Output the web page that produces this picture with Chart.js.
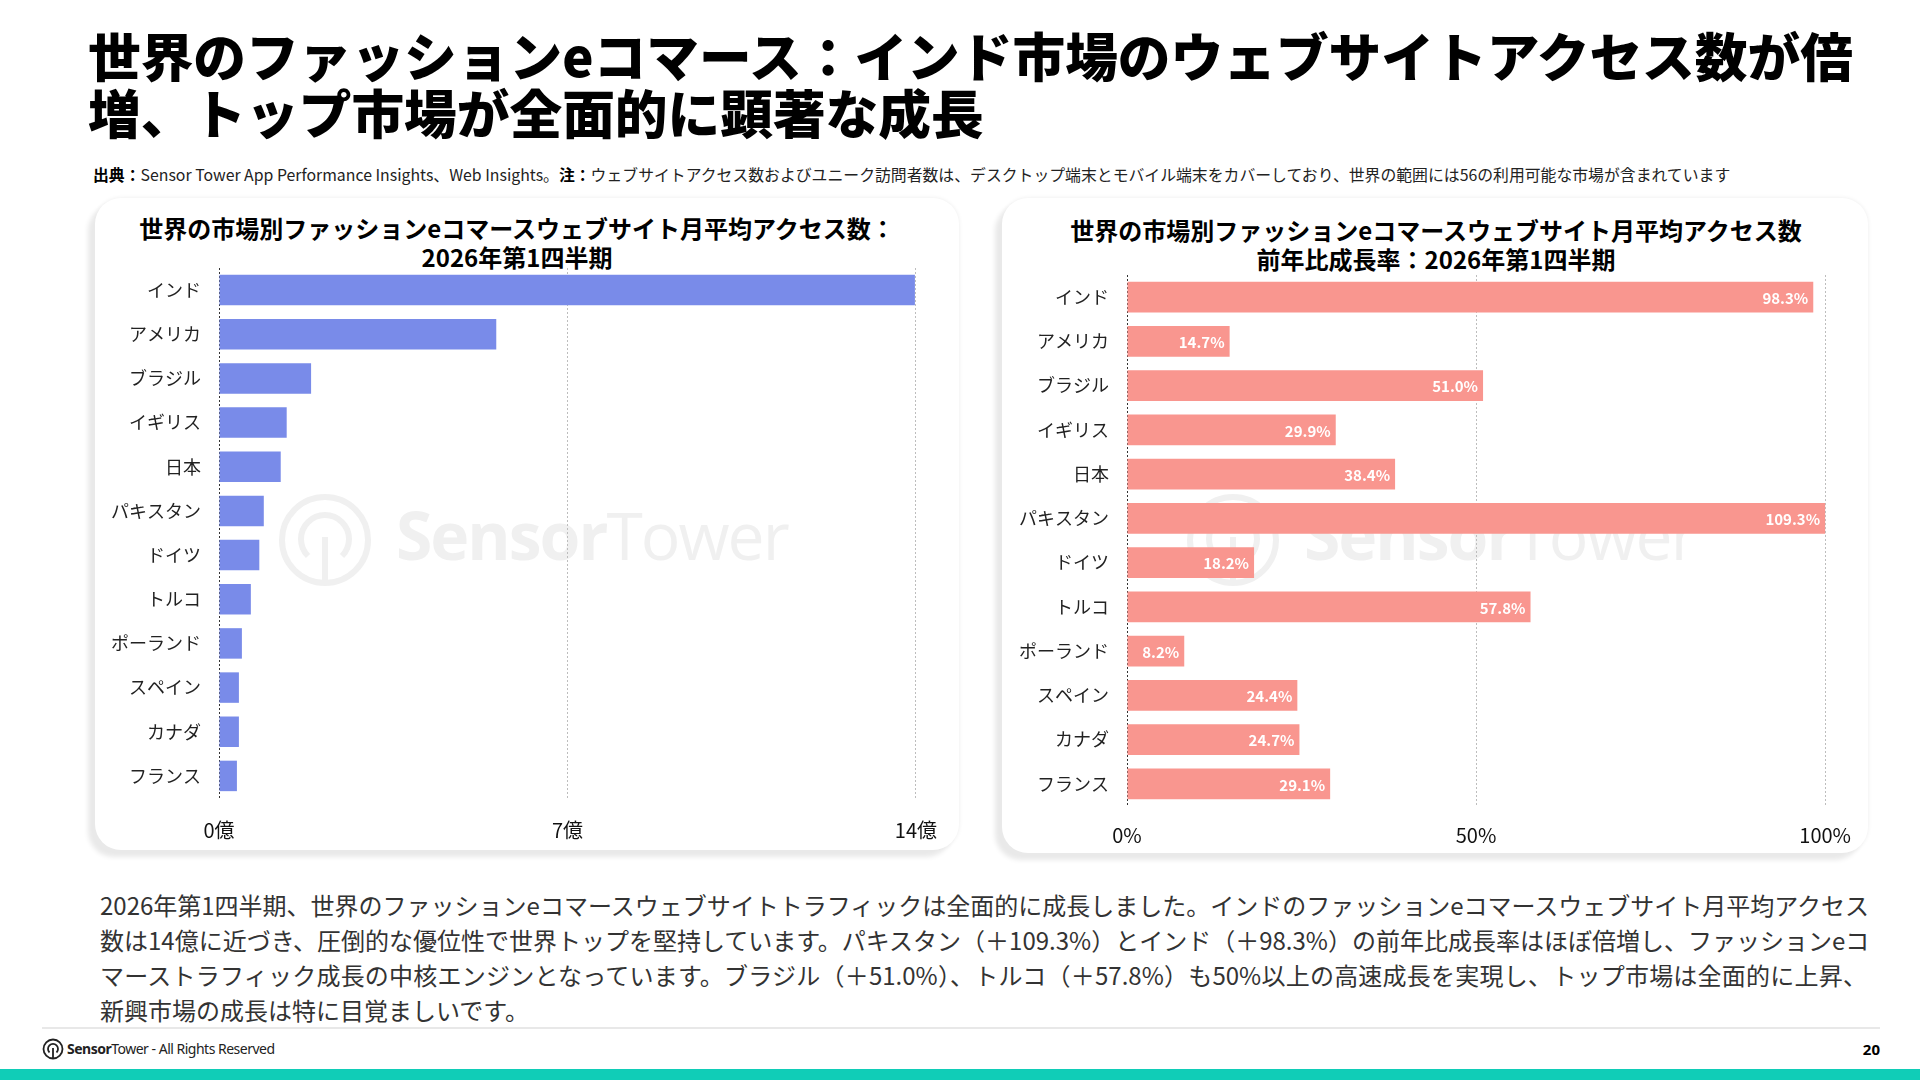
<!DOCTYPE html>
<html><head><meta charset="utf-8">
<script src="https://cdn.jsdelivr.net/npm/chart.js@4.4.1/dist/chart.umd.min.js"></script>
<style>
html,body{margin:0;padding:0;}
body{width:1920px;height:1080px;background:#fff;position:relative;overflow:hidden;font-family:"Noto Sans CJK JP","Noto Sans",sans-serif;color:#111;}
.title{position:absolute;left:88px;top:26px;font-size:52.7px;font-weight:900;line-height:57px;color:#000;white-space:nowrap;}
.sub{position:absolute;left:93px;top:164px;font-size:15.85px;line-height:22px;color:#222;white-space:nowrap;}
.sub b{font-weight:700;color:#000;}
.card{position:absolute;background:#fff;border-radius:26px;box-shadow:-7px 7px 5px #e9e9e9,0 0 4px #ececec;}
.ctitle{position:absolute;font-size:24px;font-weight:700;line-height:29px;color:#000;text-align:center;white-space:nowrap;}
.wm{position:absolute;}
.wm svg{position:absolute;left:0;top:0;}
.wm .t{position:absolute;left:118px;top:-4px;font-family:"Open Sans","Noto Sans",sans-serif;font-size:66px;color:#f0f0f0;white-space:nowrap;letter-spacing:-2px;}
canvas{position:absolute;}
.para{position:absolute;left:100px;top:887px;width:1767px;font-size:24px;line-height:35px;color:#333;}
.para div{text-align:justify;text-align-last:justify;white-space:nowrap;}
.para div.last{text-align-last:left;}
.sep{position:absolute;left:42px;top:1027px;width:1838px;height:2px;background:#e8e8e8;}
.foot{position:absolute;left:42px;top:1038px;height:22px;font-family:"Noto Sans",sans-serif;font-size:14px;line-height:22px;color:#222;white-space:nowrap;letter-spacing:-0.5px;}
.foot svg{position:absolute;left:0;top:0;}
.foot span{position:absolute;left:25px;top:0;}
.pg{position:absolute;right:40px;top:1038px;font-family:"Noto Sans",sans-serif;font-size:15px;font-weight:700;line-height:22px;color:#000;}
.bar{position:absolute;left:0;top:1069px;width:1920px;height:11px;background:#10cdb7;}
</style>
</head><body>

<div class="title">世界のファッションeコマース：インド市場のウェブサイトアクセス数が倍<br>増、トップ市場が全面的に顕著な成長</div>
<div class="sub"><b>出典：</b>Sensor Tower App Performance Insights、Web Insights。<b>注：</b>ウェブサイトアクセス数およびユニーク訪問者数は、デスクトップ端末とモバイル端末をカバーしており、世界の範囲には56の利用可能な市場が含まれています</div>

<div class="card" style="left:95px;top:198px;width:864px;height:652px;"></div>
<div class="card" style="left:1002px;top:198px;width:866px;height:655px;"></div>

<div class="wm" style="left:278px;top:493px;">
<svg width="100" height="100" viewBox="0 0 100 100"><g fill="none" stroke="#f0f0f0" stroke-width="6"><circle cx="47" cy="47" r="43"/><path d="M30 63 A24 24 0 1 1 64 63"/><line x1="47" y1="44" x2="47" y2="90"/></g></svg>
<div class="t"><b>Sensor</b>Tower</div></div>
<div class="wm" style="left:1186px;top:493px;">
<svg width="100" height="100" viewBox="0 0 100 100"><g fill="none" stroke="#f0f0f0" stroke-width="6"><circle cx="47" cy="47" r="43"/><path d="M30 63 A24 24 0 1 1 64 63"/><line x1="47" y1="44" x2="47" y2="90"/></g></svg>
<div class="t"><b>Sensor</b>Tower</div></div>

<div class="ctitle" style="left:97px;width:840px;top:213px;">世界の市場別ファッションeコマースウェブサイト月平均アクセス数：<br>2026年第1四半期</div>
<div class="ctitle" style="left:1003px;width:866px;top:215px;">世界の市場別ファッションeコマースウェブサイト月平均アクセス数<br>前年比成長率：2026年第1四半期</div>

<canvas id="c1" width="860" height="645" style="left:97px;top:200px;"></canvas>
<canvas id="c2" width="865" height="650" style="left:1003px;top:200px;"></canvas>

<div class="para">
<div>2026年第1四半期、世界のファッションeコマースウェブサイトトラフィックは全面的に成長しました。インドのファッションeコマースウェブサイト月平均アクセス</div>
<div>数は14億に近づき、圧倒的な優位性で世界トップを堅持しています。パキスタン（＋109.3%）とインド（＋98.3%）の前年比成長率はほぼ倍増し、ファッションeコ</div>
<div>マーストラフィック成長の中核エンジンとなっています。ブラジル（＋51.0%）、トルコ（＋57.8%）も50%以上の高速成長を実現し、トップ市場は全面的に上昇、</div>
<div class="last">新興市場の成長は特に目覚ましいです。</div>
</div>

<div class="sep"></div>
<div class="foot"><svg width="22" height="22" viewBox="0 0 22 22"><g fill="none" stroke="#222" stroke-width="1.8"><circle cx="11" cy="11" r="9.5"/><path d="M7.5 14.5 A5 5 0 1 1 14.5 14.5"/><line x1="11" y1="10" x2="11" y2="20.5"/></g></svg><span><b>Sensor</b>Tower - All Rights Reserved</span></div>
<div class="pg">20</div>
<div class="bar"></div>

<script>
const categories = ['インド','アメリカ','ブラジル','イギリス','日本','パキスタン','ドイツ','トルコ','ポーランド','スペイン','カナダ','フランス'];
const monthlyVisits = [13.98, 5.57, 1.85, 1.36, 1.24, 0.90, 0.81, 0.64, 0.46, 0.40, 0.40, 0.36]; // 億
const yoyGrowth = [98.3, 14.7, 51.0, 29.9, 38.4, 109.3, 18.2, 57.8, 8.2, 24.4, 24.7, 29.1]; // %
const visitTicks = [0, 7, 14];
const growthTicks = [0, 50, 100];
const visitUnit = '億';
const growthUnit = '%';

const FONT = '"Noto Sans CJK JP","Noto Sans",sans-serif';
Chart.defaults.font.family = FONT;
Chart.defaults.color = '#222';

const valueLabels = {
  id: 'valueLabels',
  afterDatasetsDraw(chart, args, opts) {
    if (!opts.show) return;
    const ctx = chart.ctx;
    const meta = chart.getDatasetMeta(0);
    const ds = chart.data.datasets[0];
    ctx.save();
    ctx.font = '700 15px ' + FONT;
    ctx.fillStyle = '#fff';
    ctx.textAlign = 'right';
    ctx.textBaseline = 'middle';
    meta.data.forEach((bar, i) => {
      const x = Math.min(bar.x, chart.chartArea.right);
      ctx.fillText(ds.data[i].toFixed(1) + growthUnit, x - 5, bar.y + 1);
    });
    ctx.restore();
  }
};

function makeChart(id, values, color, ticksArr, unit, yWidth, pad, xHeight, tickPad, labels) {
  const maxV = ticksArr[ticksArr.length - 1];
  return new Chart(document.getElementById(id), {
    type: 'bar',
    data: { labels: categories, datasets: [{ data: values, backgroundColor: color, borderWidth: 0, categoryPercentage: 1, barPercentage: 0.69 }] },
    plugins: [valueLabels],
    options: {
      indexAxis: 'y',
      responsive: false,
      animation: false,
      devicePixelRatio: 1,
      layout: { padding: pad },
      plugins: { legend: { display: false }, tooltip: { enabled: false }, title: { display: false }, valueLabels: { show: labels } },
      scales: {
        x: {
          min: 0, max: maxV,
          afterBuildTicks: s => { s.ticks = ticksArr.map(v => ({ value: v })); },
          afterFit: s => { s.height = xHeight; },
          border: { display: false, dash: [2, 2] },
          grid: { drawTicks: false, color: c => (c.tick && c.tick.value === 0) ? '#333' : '#bdbdbd', lineWidth: 1 },
          ticks: { padding: tickPad, font: { size: 20 }, color: '#111', callback: v => v + unit, maxRotation: 0 }
        },
        y: {
          afterFit: s => { s.width = yWidth; },
          border: { display: false },
          grid: { display: false },
          ticks: { padding: 10, font: { size: 18 }, color: '#222', autoSkip: false }
        }
      }
    }
  });
}

const c1 = makeChart('c1', monthlyVisits, '#798be9', visitTicks, visitUnit, 122, { top: 68, right: 38, bottom: 0, left: 0 }, 47, 20, false);
const c2 = makeChart('c2', yoyGrowth, '#f9968f', growthTicks, growthUnit, 124, { top: 75, right: 40, bottom: 0, left: 0 }, 44, 17, true);
</script>
</body></html>
